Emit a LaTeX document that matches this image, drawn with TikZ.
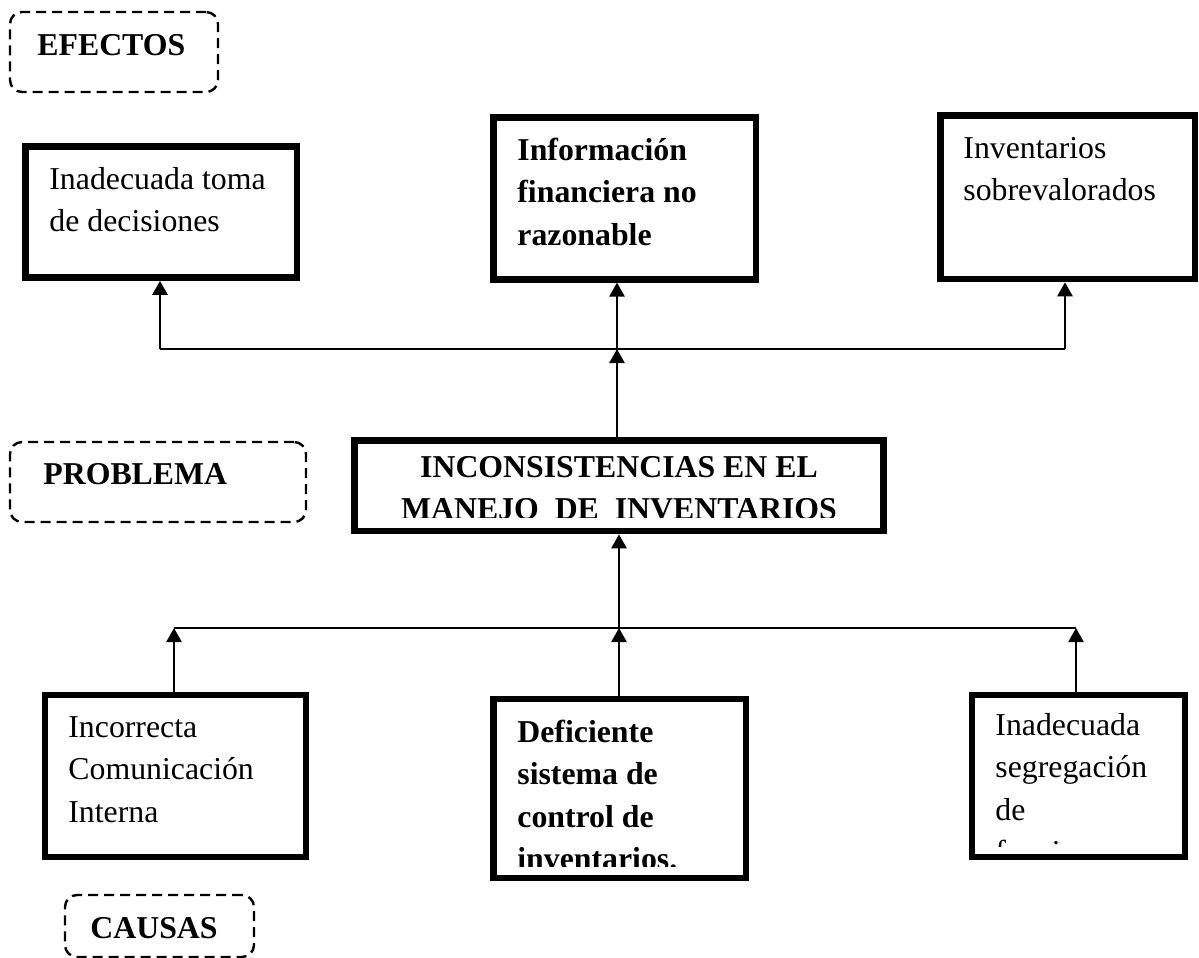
\documentclass[tikz,border=0pt]{standalone}
\usepackage{fontspec}
\setmainfont{Liberation Serif}
\usetikzlibrary{arrows.meta,fit}
% multi-line text whose baseline is the first line
\newcommand\stackl[1]{\begin{tabular}[t]{@{}l@{}}#1\end{tabular}}
\newcommand\stackc[1]{\begin{tabular}[t]{@{}c@{}}#1\end{tabular}}

\begin{document}
\begin{tikzpicture}[x=0.5pt,y=-0.5pt,
  frame/.style={draw, rectangle, line width=3.3pt, inner sep=0pt},
  tagbox/.style={draw, rectangle, line width=1.2pt, dash pattern=on 5pt off 3pt,
                 rounded corners=6pt, inner sep=0pt},
  txt/.style={inner sep=0pt, anchor=base west, font=\fontsize{15.9pt}{21.3pt}\selectfont},
  btxt/.style={txt, font=\fontsize{15.9pt}{21.3pt}\selectfont\bfseries},
  bus/.style={line width=1.1pt},
  arr/.style={line width=1.3pt, -{Triangle[width=7.5pt,length=7pt]}}
]
\useasboundingbox (0,0) rectangle (1199,958);

% ---- section tags ----
\node[tagbox, fit={(10,12) (218,92)}] (tagE) {};
\node[btxt] (tagEt) at (37,55) {EFECTOS};
\node[tagbox, fit={(10,442) (306,522)}] (tagP) {};
\node[btxt] (tagPt) at (43,484) {PROBLEMA};
\node[tagbox, fit={(65,895) (254,957)}] (tagC) {};
\node[btxt] (tagCt) at (90,938) {CAUSAS};

% ---- effects ----
\node[frame, fit={(25.5,146.5) (297,277.5)}] (e1) {};
\node[txt] (e1t) at (49,189) {\stackl{Inadecuada toma\\de decisiones}};
\node[frame, fit={(493.7,117.3) (756,279.3)}] (e2) {};
\node[btxt] (e2t) at (517,160) {\stackl{Información\\financiera no\\razonable}};
\node[frame, fit={(940.7,115.5) (1195,279)}] (e3) {};
\node[txt] (e3t) at (963,158) {\stackl{Inventarios\\sobrevalorados}};

% ---- problem ----
\node[frame, fit={(354.5,440.5) (883.5,531)}] (p) {};
\begin{scope}
  \clip (358,444) rectangle (880,517);
  \node[btxt, anchor=base] (pt) at (619,477)
    {\stackc{INCONSISTENCIAS EN EL\\MANEJO\ \ DE\ \ INVENTARIOS}};
\end{scope}

% ---- causes ----
\node[frame, fit={(45,695) (306,857)}] (c1) {};
\node[txt] (c1t) at (68,737) {\stackl{Incorrecta\\Comunicación\\Interna}};
\node[frame, fit={(493.5,699) (746,878)}] (c2) {};
\begin{scope}
  \clip (497,703) rectangle (742,866);
  \node[btxt] (c2t) at (517,742) {\stackl{Deficiente\\sistema de\\control de\\inventarios.}};
\end{scope}
\node[frame, fit={(972,695) (1185,857)}] (c3) {};
\begin{scope}
  \clip (976,699) rectangle (1181,846);
  \node[txt] (c3t) at (995,735) {\stackl{Inadecuada\\segregación\\de\\funciones}};
\end{scope}

% ---- connectors: effects ----
\coordinate (eb1) at (160,349);
\coordinate (eb2) at (617,349);
\coordinate (eb3) at (1065,349);
\draw[bus] (eb1) -- (eb3);
\draw[arr] (eb1) -- (eb1 |- e1.south);
\draw[arr] (eb2) -- (eb2 |- e2.south);
\draw[arr] (eb3) -- (eb3 |- e3.south);
\draw[arr] (eb2 |- p.north) -- (eb2);

% ---- connectors: causes ----
\coordinate (cb1) at (174,628);
\coordinate (cb2) at (619,628);
\coordinate (cb3) at (1076,628);
\draw[bus] (cb1) -- (cb3);
\draw[arr] (cb2) -- (cb2 |- p.south);
\draw[arr] (cb1 |- c1.north) -- (cb1);
\draw[arr] (cb2 |- c2.north) -- (cb2);
\draw[arr] (cb3 |- c3.north) -- (cb3);
\end{tikzpicture}
\end{document}
